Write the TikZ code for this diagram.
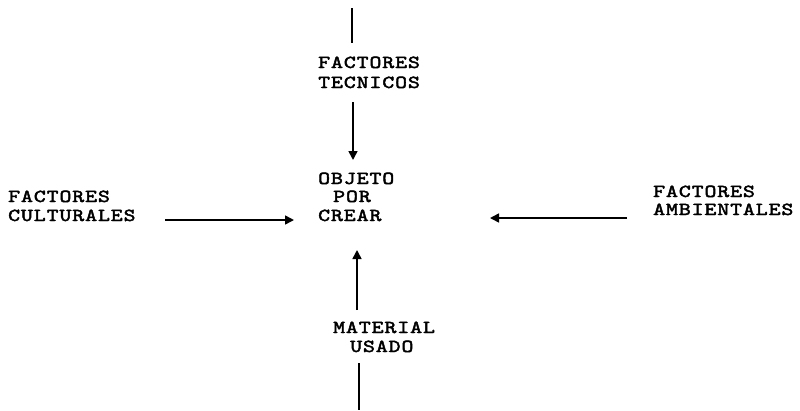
\documentclass[tikz,border=0pt]{standalone}
\usepackage{fontspec}
\newfontfamily\typewr{lmmono10-regular.otf}[FakeBold=2.5,FakeStretch=1.24,LetterSpace=5]
\usetikzlibrary{arrows.meta}
\begin{document}
\begin{tikzpicture}[x=1pt,y=-1pt,
  lbl/.style={anchor=base west,inner sep=0pt,font=\typewr\fontsize{18.3}{19}\selectfont},
  conn/.style={line width=1.6pt},
  arr/.style={conn,-{Triangle[length=9pt,width=9pt]}}]
\useasboundingbox (0,0) rectangle (800,410);
% labels
\node[lbl] (tecA) at (318,68) {FACTORES};
\node[lbl] (tecB) at (318,88) {TECNICOS};
\node[lbl] (objA) at (318,184) {OBJETO};
\node[lbl] (objB) at (333,202) {POR};
\node[lbl] (objC) at (318,221) {CREAR};
\node[lbl] (culA) at (8,202) {FACTORES};
\node[lbl] (culB) at (8,221) {CULTURALES};
\node[lbl] (ambA) at (653,197) {FACTORES};
\node[lbl] (ambB) at (653,215) {AMBIENTALES};
\node[lbl] (matA) at (333,333) {MATERIAL};
\node[lbl] (matB) at (350,352) {USADO};
% connector ends
\coordinate (t0) at (352,8);
\coordinate (t1) at (352,43);
\coordinate (d0) at (353,102);
\coordinate (d1) at (353,160);
\coordinate (l0) at (165,220);
\coordinate (l1) at (294,220);
\coordinate (r0) at (627,218);
\coordinate (r1) at (490,218);
\coordinate (u0) at (357,310);
\coordinate (u1) at (357,250);
\coordinate (b0) at (359,363);
\coordinate (b1) at (359,410);
% connectors
\draw[conn] (t0) -- (t1);
\draw[arr] (d0) -- (d1);
\draw[arr] (l0) -- (l1);
\draw[arr] (r0) -- (r1);
\draw[arr] (u0) -- (u1);
\draw[conn] (b0) -- (b1);
\end{tikzpicture}
\end{document}
